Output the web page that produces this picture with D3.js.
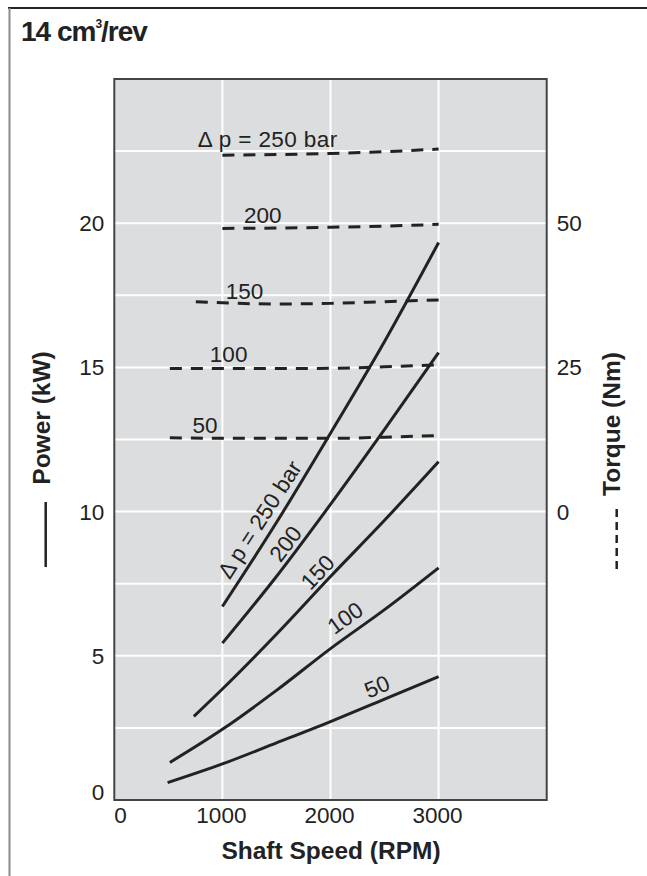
<!DOCTYPE html>
<html>
<head>
<meta charset="utf-8">
<script src="https://cdn.jsdelivr.net/npm/d3@7/dist/d3.min.js"></script>
<style>
  html, body { margin: 0; padding: 0; background: #fff; }
  svg { display: block; }
  text { font-family: "Liberation Sans", Arial, Helvetica, sans-serif; fill: #222; }
</style>
</head>
<body>
<svg id="chart" width="647" height="876"></svg>
<script>
// ---------- data ----------
const xTicks = [0, 1000, 2000, 3000];
const powerTicks = [0, 5, 10, 15, 20];
const torqueTicks = [0, 25, 50];
const gridY = [2.5, 5, 7.5, 10, 12.5, 15, 17.5, 20, 22.5];
const gridX = [1000, 2000, 3000];

// power curves (kW) vs shaft speed (RPM)
const rpmP250 = [1000, 1500, 2000, 2500, 3000];
const powP250 = [6.71, 9.62, 12.72, 15.9, 19.33];
const rpmP200 = [1000, 1500, 2000, 2500, 3000];
const powP200 = [5.44, 7.75, 10.25, 12.85, 15.51];
const rpmP150 = [736, 1000, 1500, 2000, 2500, 3000];
const powP150 = [2.9, 3.85, 5.75, 7.75, 9.7, 11.73];
const rpmP100 = [514, 1000, 1500, 2000, 2500, 3000];
const powP100 = [1.3, 2.45, 3.8, 5.25, 6.6, 8.05];
const rpmP50 = [493, 1000, 1500, 2000, 2500, 3000];
const powP50 = [0.6, 1.25, 1.98, 2.72, 3.5, 4.28];

// torque curves (Nm) vs shaft speed (RPM)
const rpmT250 = [1000, 1500, 2000, 2500, 3000];
const torT250 = [61.8, 61.9, 62.1, 62.4, 62.85];
const rpmT200 = [1000, 1500, 2000, 2500, 3000];
const torT200 = [49.1, 49.15, 49.3, 49.5, 49.8];
const rpmT150 = [754, 1000, 1500, 2000, 2500, 3000];
const torT150 = [36.4, 36.2, 36.0, 36.1, 36.4, 36.7];
const rpmT100 = [514, 1000, 1500, 2000, 2500, 3000];
const torT100 = [24.8, 24.8, 24.8, 24.85, 25.1, 25.45];
const rpmT50 = [514, 1000, 1500, 2000, 2500, 3000];
const torT50 = [12.8, 12.7, 12.7, 12.7, 12.9, 13.2];

const powerLabels = ["\u0394 p = 250 bar", "200", "150", "100", "50"];
const torqueLabels = ["\u0394 p = 250 bar", "200", "150", "100", "50"];

// ---------- layout ----------
const svg = d3.select("#chart");
const L = 114.3, R = 546.7, T = 79, B = 800;

const x = d3.scaleLinear().domain([0, 4000]).range([L, R]);
const y = d3.scaleLinear().domain([0, 25]).range([B, T]);
const yT = d3.scaleLinear().domain([-50, 75]).range([B, T]); // torque axis

// outer frame
svg.append("line").attr("x1", 8).attr("x2", 647).attr("y1", 8).attr("y2", 8)
  .attr("stroke", "#222").attr("stroke-width", 2);
svg.append("line").attr("x1", 9.5).attr("x2", 9.5).attr("y1", 8).attr("y2", 876)
  .attr("stroke", "#8a8a8a").attr("stroke-width", 2);

// title
const title = svg.append("text").attr("x", 21).attr("y", 41)
  .attr("font-size", 28).attr("font-weight", "bold").attr("letter-spacing", -1);
title.append("tspan").text("14 cm");
title.append("tspan").attr("font-size", 12).attr("dy", -13).text("3");
title.append("tspan").attr("dy", 13).text("/rev");

// plot background
svg.append("rect").attr("x", L).attr("y", T).attr("width", R - L).attr("height", B - T)
  .attr("fill", "#dcdddf");

// grid
svg.append("g").selectAll("line").data(gridY).join("line")
  .attr("x1", L).attr("x2", R).attr("y1", d => y(d)).attr("y2", d => y(d))
  .attr("stroke", "#fff").attr("stroke-width", 2);
svg.append("g").selectAll("line").data(gridX).join("line")
  .attr("x1", d => x(d)).attr("x2", d => x(d)).attr("y1", T).attr("y2", B)
  .attr("stroke", "#fff").attr("stroke-width", 2);

// plot border
svg.append("rect").attr("x", L).attr("y", T).attr("width", R - L).attr("height", B - T)
  .attr("fill", "none").attr("stroke", "#444").attr("stroke-width", 2);

// ticks
const tickSize = 22.5;
svg.append("g").selectAll("text").data(powerTicks).join("text")
  .attr("x", L - 10).attr("y", d => d === 0 ? y(d) : y(d) + 8)
  .attr("text-anchor", "end").attr("font-size", tickSize).text(d => d);
svg.append("g").selectAll("text").data(torqueTicks).join("text")
  .attr("x", R + 10).attr("y", d => yT(d) + 8)
  .attr("text-anchor", "start").attr("font-size", tickSize).text(d => d);
svg.append("g").selectAll("text").data(xTicks).join("text")
  .attr("x", d => d === 0 ? x(d) : x(d) - 1).attr("y", B + 23)
  .attr("text-anchor", d => d === 0 ? "start" : "middle")
  .attr("font-size", tickSize).text(d => d);

// axis titles
svg.append("text").attr("x", 331).attr("y", 859).attr("text-anchor", "middle")
  .attr("font-size", 24.5).attr("font-weight", "bold").text("Shaft Speed (RPM)");
svg.append("text").attr("transform", "translate(50,418) rotate(-90)")
  .attr("text-anchor", "middle").attr("font-size", 24.5).attr("font-weight", "bold")
  .text("Power (kW)");
svg.append("line").attr("x1", 45.7).attr("x2", 45.7).attr("y1", 502).attr("y2", 567)
  .attr("stroke", "#222").attr("stroke-width", 2.5);
svg.append("text").attr("transform", "translate(620,424) rotate(-90)")
  .attr("text-anchor", "middle").attr("font-size", 24.5).attr("font-weight", "bold")
  .text("Torque (Nm)");
svg.append("line").attr("x1", 616.7).attr("x2", 616.7).attr("y1", 509).attr("y2", 572)
  .attr("stroke", "#222").attr("stroke-width", 2.5).attr("stroke-dasharray", "8,5");

// curves
const powerSeries = [
  {rpm: rpmP250, v: powP250}, {rpm: rpmP200, v: powP200}, {rpm: rpmP150, v: powP150},
  {rpm: rpmP100, v: powP100}, {rpm: rpmP50, v: powP50}
];
const torqueSeries = [
  {rpm: rpmT250, v: torT250}, {rpm: rpmT200, v: torT200}, {rpm: rpmT150, v: torT150},
  {rpm: rpmT100, v: torT100}, {rpm: rpmT50, v: torT50}
];

const linePow = d3.line().x(d => x(d[0])).y(d => y(d[1])).curve(d3.curveMonotoneX);
const lineTor = d3.line().x(d => x(d[0])).y(d => yT(d[1])).curve(d3.curveMonotoneX);

svg.append("g").selectAll("path").data(torqueSeries).join("path")
  .attr("d", s => lineTor(s.rpm.map((r, i) => [r, s.v[i]])))
  .attr("fill", "none").attr("stroke", "#222").attr("stroke-width", 3)
  .attr("stroke-dasharray", "12,9");

svg.append("g").selectAll("path").data(powerSeries).join("path")
  .attr("d", s => linePow(s.rpm.map((r, i) => [r, s.v[i]])))
  .attr("fill", "none").attr("stroke", "#222").attr("stroke-width", 3);

// rotated labels along power curves
const powerLabelRpm = [1130, 1571, 1845, 2082, 2375];
const powerLabelOff = [8, 4.5, 4.5, 8.5, 6.5];
function interp(rpmArr, vArr, r) {
  return d3.scaleLinear().domain(rpmArr).range(vArr).clamp(true)(r);
}
powerSeries.forEach((s, i) => {
  const r = powerLabelRpm[i];
  const px = x(r), py = y(interp(s.rpm, s.v, r));
  const px2 = x(r + 100), py2 = y(interp(s.rpm, s.v, r + 100));
  const ang = Math.atan2(py2 - py, px2 - px);
  const nx = Math.sin(ang), ny = -Math.cos(ang); // normal pointing up-left
  const off = powerLabelOff[i];
  svg.append("text")
    .attr("transform", `translate(${px + nx * off},${py + ny * off}) rotate(${ang * 180 / Math.PI})`)
    .attr("font-size", 22.5).text(powerLabels[i]);
});

// labels above torque curves
const torqueLabelRpm = [773, 1200, 1032, 884, 724];
const torqueLabelOff = [8, 5, 4, 6.5, 5.5];
torqueSeries.forEach((s, i) => {
  const r = torqueLabelRpm[i];
  svg.append("text").attr("x", x(r))
    .attr("y", yT(interp(s.rpm, s.v, Math.max(r, s.rpm[0]))) - torqueLabelOff[i])
    .attr("font-size", 22.5).attr("letter-spacing", i === 0 ? 0.4 : 0).text(torqueLabels[i]);
});
</script>
</body>
</html>
